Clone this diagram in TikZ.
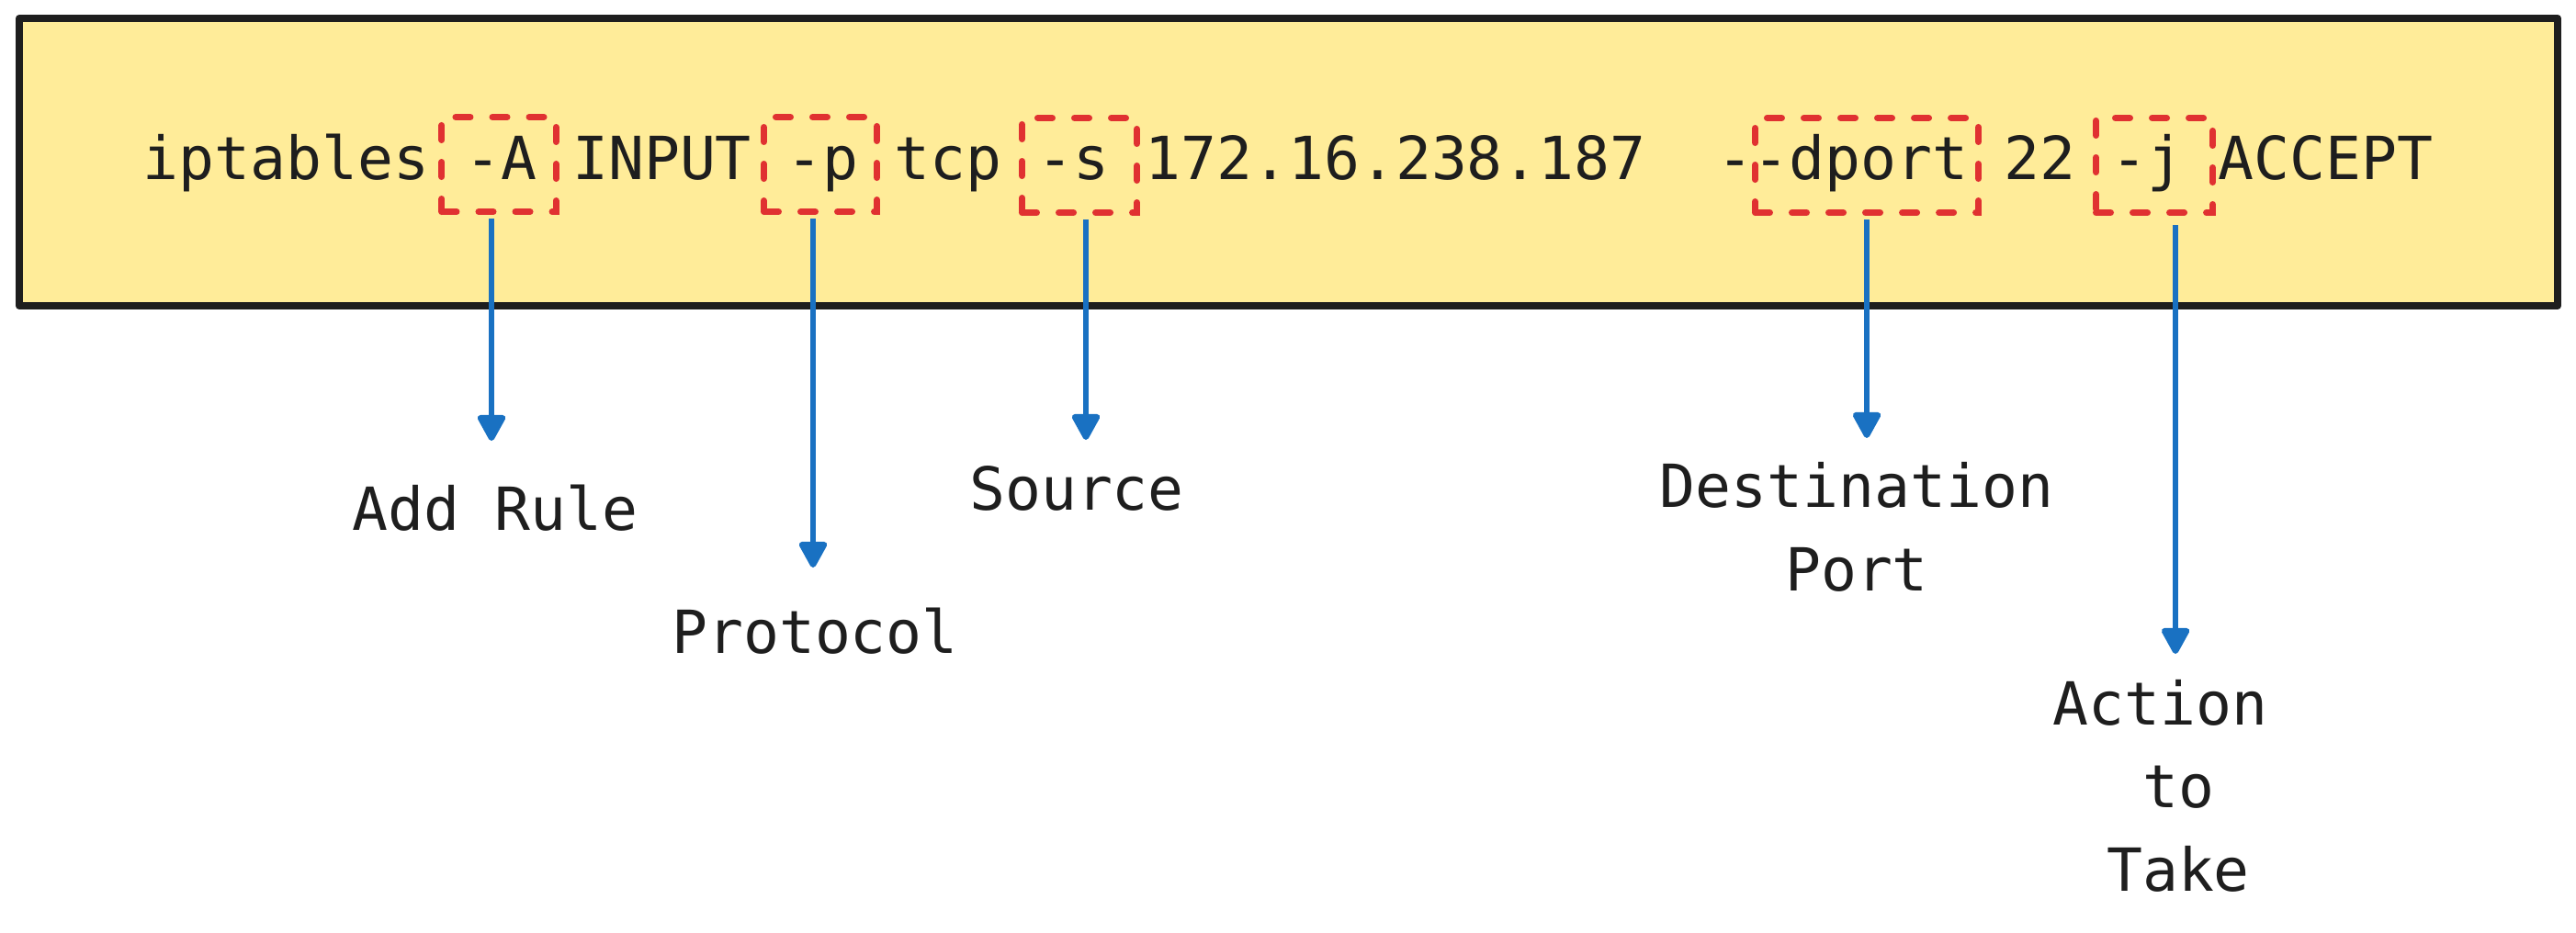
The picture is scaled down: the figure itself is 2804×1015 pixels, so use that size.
\documentclass[tikz,border=0pt]{standalone}
\usepackage{fontspec}
\usetikzlibrary{arrows.meta}
\newfontfamily\cmdfont{DejaVu Sans Mono}
\definecolor{cmdY}{RGB}{255,236,153}
\definecolor{cmdK}{RGB}{30,30,30}
\definecolor{cmdR}{RGB}{224,49,49}
\definecolor{cmdB}{RGB}{25,113,194}
\begin{document}
\begin{tikzpicture}[x=0.01cm,y=-0.01cm,>={Triangle[round,length=3.2mm,width=3.3mm]},
  txt/.style={font=\cmdfont\fontsize{18.4}{25.6}\selectfont,text=cmdK,inner sep=0pt},
  flag/.style={draw=cmdR,line width=0.07cm,dash pattern=on 0.16cm off 0.24cm,line cap=round,minimum height=1.03cm,inner sep=0pt},
  arr/.style={->,cmdB,line width=0.065cm,shorten <=0.04cm}]
\useasboundingbox (0,0) rectangle (2804,1015);
\draw[cmdK,fill=cmdY,line width=0.08cm,line join=round] (21,20) rectangle (2784,333);
\node[txt,anchor=base west] (cmd) at (155,195) {iptables -A INPUT -p tcp -s 172.16.238.187\ \ -{}-dport 22 -j ACCEPT};
% flags
\node[flag,minimum width=1.24cm] (fA) at (543,179) {};
\node[flag,minimum width=1.23cm] (fP) at (893,179) {};
\node[flag,minimum width=1.25cm] (fS) at (1175,180) {};
\node[flag,minimum width=2.43cm] (fD) at (2032,180) {};
\node[flag,minimum width=1.27cm] (fJ) at (2345,180) {};
% labels (base = last line)
\node[txt,anchor=base] (lA) at (539,577) {Add Rule};
\node[txt,anchor=base] (lP) at (887,711) {Protocol};
\node[txt,anchor=base] (lS) at (1172,555) {Source};
\node[txt,anchor=base,align=center] (lD) at (2021,643) {Destination\\Port};
\node[txt,anchor=base,align=center] (lJ) at (2371,970) {Action\hphantom{x}\\to\\Take};
% arrows
\coordinate (tA) at (535,480);
\coordinate (tP) at (885,618);
\coordinate (tS) at (1182,479);
\coordinate (tD) at (2032,477);
\coordinate (tJ) at (2368,712);
\draw[arr] (fA.south -| tA) -- (tA);
\draw[arr] (fP.south -| tP) -- (tP);
\draw[arr] (fS.south -| tS) -- (tS);
\draw[arr] (fD.south -| tD) -- (tD);
\draw[arr,shorten <=0.1cm] (fJ.south -| tJ) -- (tJ);
\end{tikzpicture}
\end{document}
